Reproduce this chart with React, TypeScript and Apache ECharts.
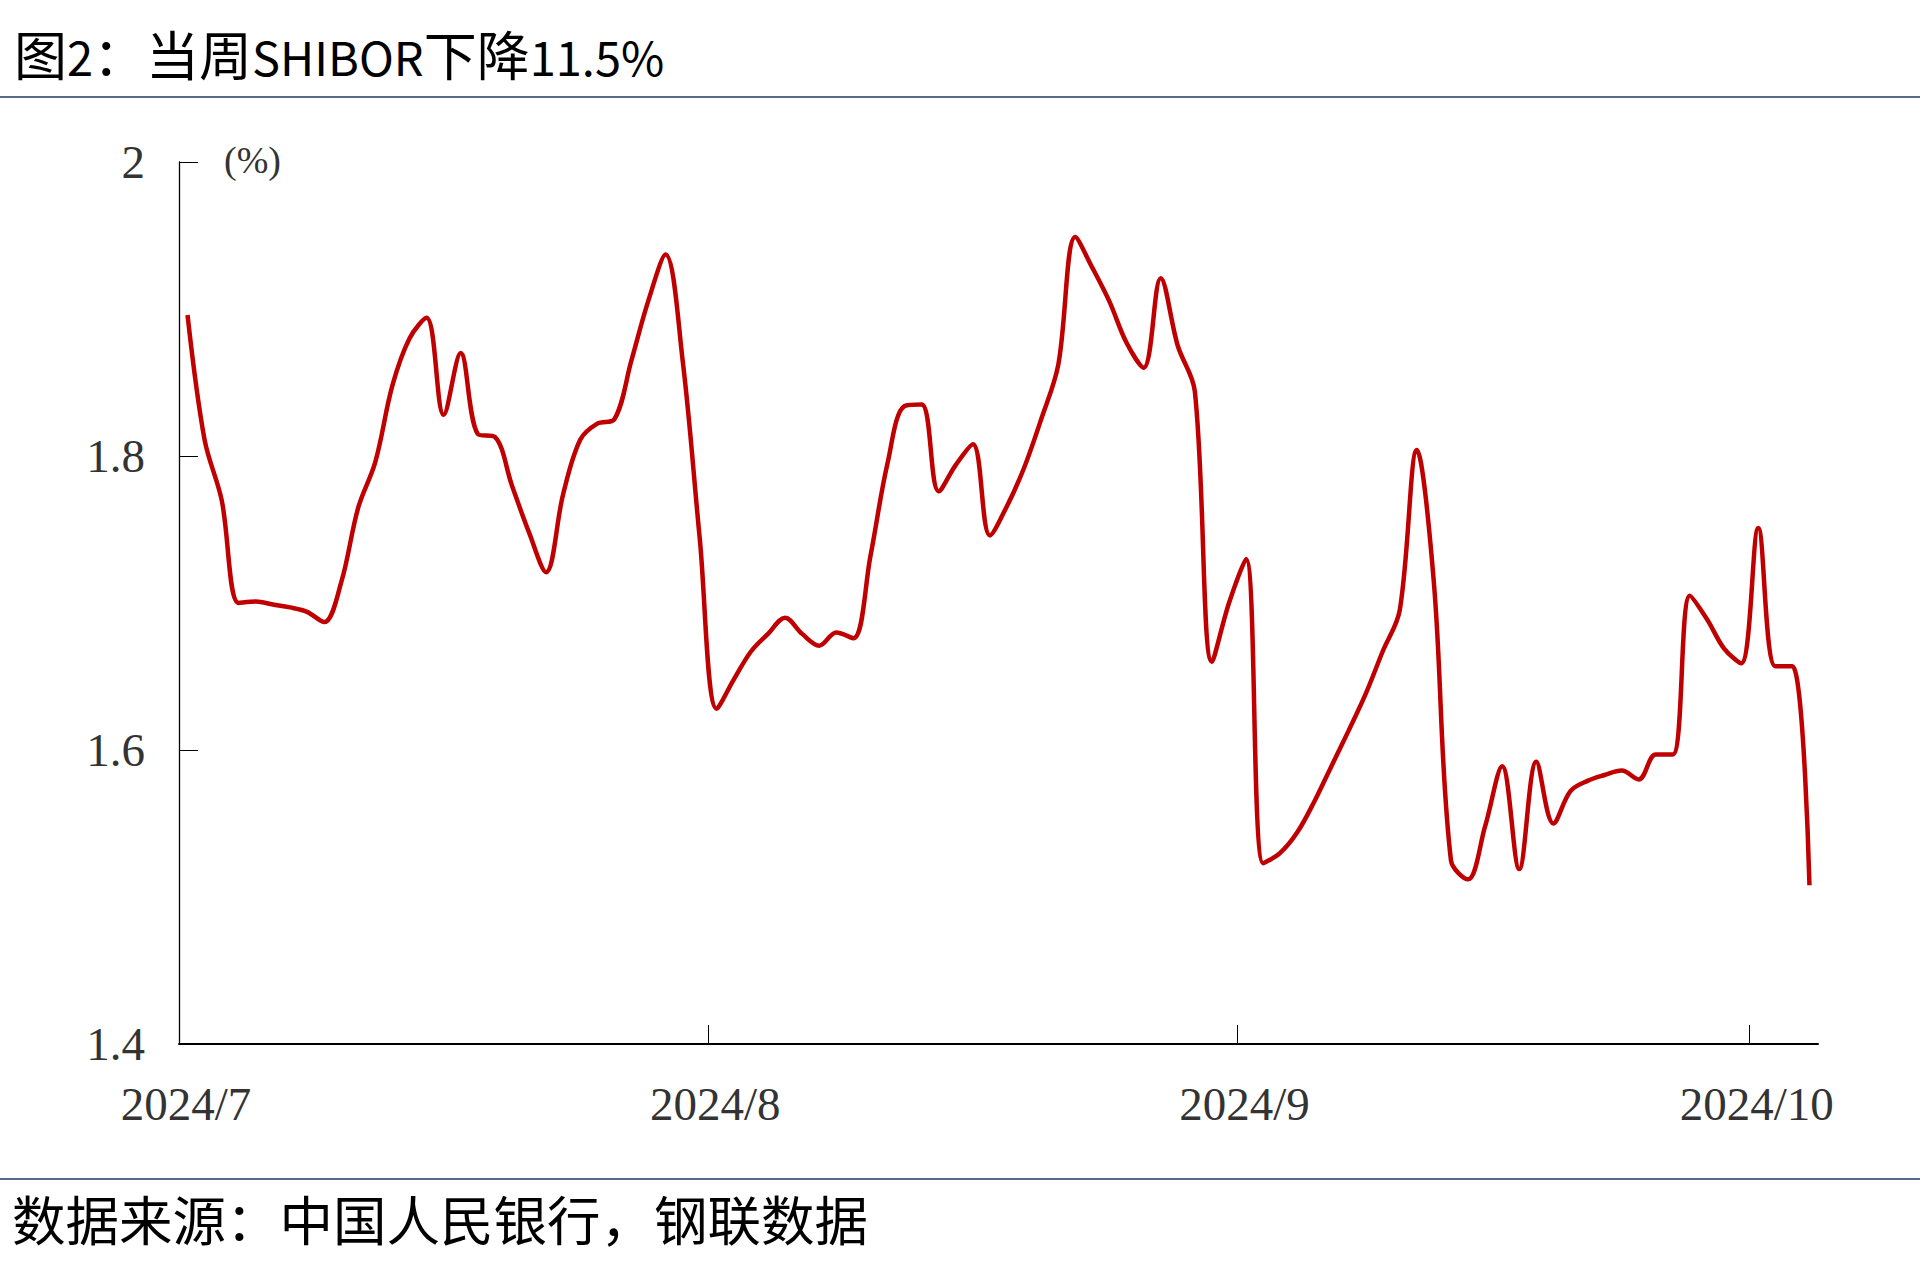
import React, { useEffect, useRef } from "react";
import * as echarts from "echarts";

const titleParts = [
  { t: "图", latin: false },
  { t: "2", latin: true },
  { t: "：当周", latin: false },
  { t: "SHIBOR", latin: true },
  { t: "下降", latin: false },
  { t: "11.5%", latin: true },
];
const sourceText = "数据来源：中国人民银行，钢联数据";
const unitText = "(%)";

const dates = [
  "2024-07-01", "2024-07-02", "2024-07-03", "2024-07-04", "2024-07-05", "2024-07-06", "2024-07-07", "2024-07-08",
  "2024-07-09", "2024-07-10", "2024-07-11", "2024-07-12", "2024-07-13", "2024-07-14", "2024-07-15", "2024-07-16",
  "2024-07-17", "2024-07-18", "2024-07-19", "2024-07-20", "2024-07-21", "2024-07-22", "2024-07-23", "2024-07-24",
  "2024-07-25", "2024-07-26", "2024-07-27", "2024-07-28", "2024-07-29", "2024-07-30", "2024-07-31",
  "2024-08-01", "2024-08-02", "2024-08-03", "2024-08-04", "2024-08-05", "2024-08-06", "2024-08-07", "2024-08-08",
  "2024-08-09", "2024-08-10", "2024-08-11", "2024-08-12", "2024-08-13", "2024-08-14", "2024-08-15", "2024-08-16",
  "2024-08-17", "2024-08-18", "2024-08-19", "2024-08-20", "2024-08-21", "2024-08-22", "2024-08-23", "2024-08-24",
  "2024-08-25", "2024-08-26", "2024-08-27", "2024-08-28", "2024-08-29", "2024-08-30", "2024-08-31",
  "2024-09-01", "2024-09-02", "2024-09-03", "2024-09-04", "2024-09-05", "2024-09-06", "2024-09-07", "2024-09-08",
  "2024-09-09", "2024-09-10", "2024-09-11", "2024-09-12", "2024-09-13", "2024-09-14", "2024-09-15", "2024-09-16",
  "2024-09-17", "2024-09-18", "2024-09-19", "2024-09-20", "2024-09-21", "2024-09-22", "2024-09-23", "2024-09-24",
  "2024-09-25", "2024-09-26", "2024-09-27", "2024-09-28", "2024-09-29", "2024-09-30",
  "2024-10-01", "2024-10-02", "2024-10-03", "2024-10-04",
];

const shibor = [
  1.896, 1.811, 1.770, 1.700, 1.701, 1.699, 1.697, 1.694,
  1.687, 1.714, 1.765, 1.796, 1.848, 1.880, 1.894, 1.828,
  1.870, 1.815, 1.813, 1.780, 1.748, 1.721, 1.774, 1.811,
  1.822, 1.825, 1.865, 1.906, 1.937, 1.865, 1.744,
  1.628, 1.648, 1.667, 1.679, 1.690, 1.679, 1.671, 1.680,
  1.676, 1.732, 1.795, 1.834, 1.835, 1.776, 1.794, 1.808,
  1.746, 1.766, 1.792, 1.825, 1.862, 1.949, 1.928, 1.905,
  1.877, 1.860, 1.921, 1.875, 1.844, 1.660, 1.700,
  1.730, 1.523, 1.530, 1.544, 1.565, 1.589, 1.613, 1.638,
  1.667, 1.695, 1.804, 1.714, 1.525, 1.512, 1.548, 1.589,
  1.519, 1.592, 1.550, 1.572, 1.579, 1.583, 1.586, 1.580,
  1.597, 1.597, 1.705, 1.689, 1.669, 1.659,
  1.751, 1.657, 1.657, 1.508,
];

const xTickDates = ["2024-07-01", "2024-08-01", "2024-09-01", "2024-10-01"];
const xTickLabels = ["2024/7", "2024/8", "2024/9", "2024/10"];
const axisStartDate = "2024-07-01";
const axisEndDate = "2024-10-05";

const yMin = 1.4;
const yMax = 2.0;
const yStep = 0.2;

function dayNum(s: string): number {
  const [y, m, d] = s.split("-").map(Number);
  const [y0, m0, d0] = axisStartDate.split("-").map(Number);
  return (Date.UTC(y, m - 1, d) - Date.UTC(y0, m0 - 1, d0)) / 86400000;
}

export default function App() {
  const ref = useRef<HTMLDivElement>(null);

  useEffect(() => {
    document.body.style.margin = "0";
    if (!ref.current) return;
    const chart = echarts.init(ref.current, undefined, { renderer: "svg" });

    const tickVals = xTickDates.map(dayNum);
    const seriesData = dates.map((d, i) => [dayNum(d) + 0.5, shibor[i]]);

    const serif = "'Liberation Serif', 'Times New Roman', serif";
    const cjk = "'Noto Sans CJK SC', sans-serif";

    const titleRich = titleParts.map((p) => `{${p.latin ? "l" : "c"}|${p.t}}`).join("");

    chart.setOption({
      animation: false,
      backgroundColor: "#ffffff",
      grid: { left: 179, right: 102, top: 162, bottom: 235, containLabel: false },
      xAxis: {
        type: "value",
        min: 0,
        max: dayNum(axisEndDate),
        splitLine: { show: false },
        axisLine: { show: true, lineStyle: { color: "#000000", width: 2 } },
        axisTick: {
          show: true,
          inside: true,
          length: 19,
          customValues: tickVals,
          lineStyle: { color: "#000000", width: 1 },
        },
        axisLabel: {
          show: true,
          customValues: tickVals,
          formatter: (v: number) => {
            const idx = tickVals.indexOf(v);
            return idx >= 0 ? xTickLabels[idx] : "";
          },
          fontFamily: serif,
          fontSize: 47,
          color: "#333333",
          margin: 36,
          padding: [0, 0, 0, 14],
        },
      },
      yAxis: {
        type: "value",
        min: yMin,
        max: yMax,
        interval: yStep,
        splitLine: { show: false },
        axisLine: { show: true, lineStyle: { color: "#000000", width: 1.3 } },
        axisTick: { show: true, inside: true, length: 19, lineStyle: { color: "#000000", width: 1 } },
        axisLabel: {
          fontFamily: serif,
          fontSize: 47,
          color: "#333333",
          margin: 34,
          formatter: (v: number) => String(Number(v.toFixed(1))),
        },
      },
      series: [
        {
          type: "line",
          data: seriesData,
          smooth: 0.35,
          showSymbol: false,
          symbol: "none",
          lineStyle: { color: "#C00000", width: 4.5 },
          z: 3,
        },
      ],
      graphic: [
        {
          type: "text",
          left: 14,
          top: 26,
          style: {
            text: titleRich,
            fill: "#000000",
            rich: {
              c: { fontFamily: cjk, fontSize: 53, fill: "#000000", lineHeight: 58, verticalAlign: "bottom" },
              l: { fontFamily: cjk, fontSize: 47, fill: "#000000", lineHeight: 58, verticalAlign: "bottom" },
            },
          },
        },
        {
          type: "line",
          shape: { x1: 0, y1: 97, x2: 1920, y2: 97 },
          style: { stroke: "#1F3864", lineWidth: 1.5 },
        },
        {
          type: "text",
          x: 224,
          y: 160,
          style: {
            text: unitText,
            font: `38px ${serif}`,
            fill: "#333333",
            verticalAlign: "middle",
          },
        },
        {
          type: "line",
          shape: { x1: 0, y1: 1179, x2: 1920, y2: 1179 },
          style: { stroke: "#1F3864", lineWidth: 1.5 },
        },
        {
          type: "text",
          left: 12,
          top: 1191,
          style: { text: sourceText, font: `53.5px ${cjk}`, fill: "#000000" },
        },
      ],
    });

    return () => chart.dispose();
  }, []);

  return (
    <div
      ref={ref}
      style={{ position: "absolute", left: 0, top: 0, width: 1920, height: 1279, background: "#fff" }}
    />
  );
}
